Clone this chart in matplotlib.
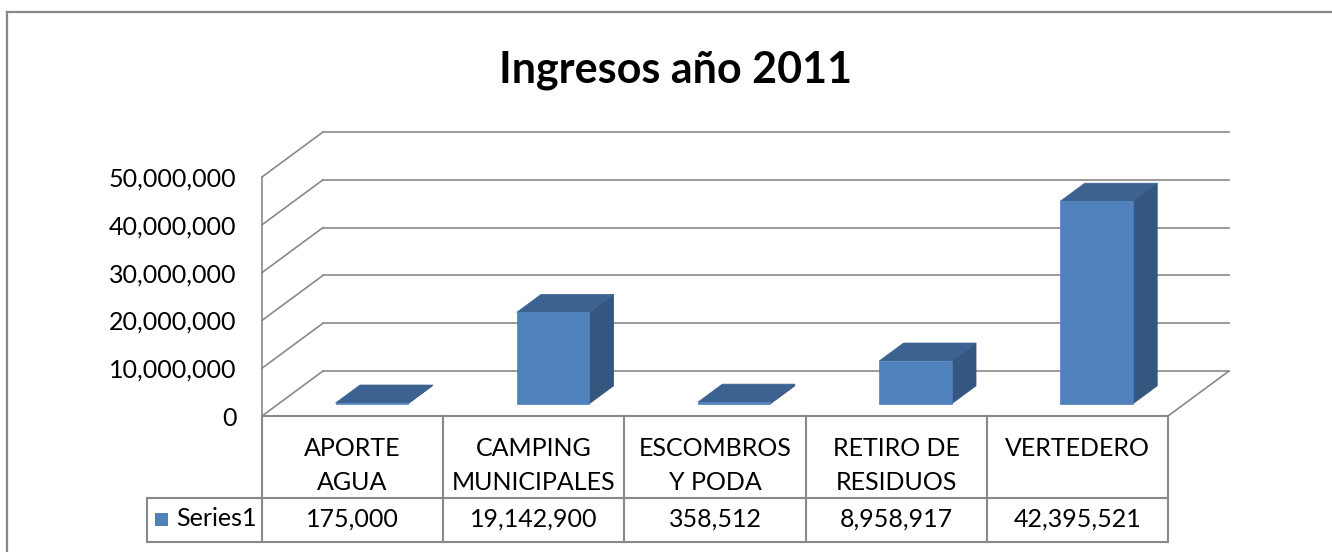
import numpy as np
import matplotlib.pyplot as plt
from matplotlib.patches import Polygon, Rectangle
from matplotlib.lines import Line2D
from matplotlib.transforms import IdentityTransform

# data
categories = ["APORTE\nAGUA", "CAMPING\nMUNICIPALES", "ESCOMBROS\nY PODA",
              "RETIRO DE\nRESIDUOS", "VERTEDERO"]
values = [175000, 19142900, 358512, 8958917, 42395521]
series_name = "Series1"
title = "Ingresos año 2011"
yticks = [0, 10000000, 20000000, 30000000, 40000000, 50000000]

plt.rcParams['font.family'] = ['Lato', 'DejaVu Sans']

W, H = 1332, 552
fig = plt.figure(figsize=(W / 100, H / 100), dpi=100)

GRID = '#898989'
FRONT = '#4f81bd'
SIDE = '#34567f'
TOP = '#3c6291'
FS = 18

# plot area (front plane), in pixel layout
x_left, x_right = 262, 1168
y_zero, y_top = 416, 177
ax = fig.add_axes([x_left / W, (H - y_zero) / H, (x_right - x_left) / W, (y_zero - y_top) / H])
ax.set_xlim(0, len(values))
ax.set_ylim(0, 50000000)
for s in ax.spines.values():
    s.set_visible(False)
ax.set_xticks([])
ax.set_yticks(yticks)
ax.set_yticklabels(["{:,}".format(v) for v in yticks], fontsize=FS)
ax.tick_params(axis='y', length=0, pad=18.5)
ax.patch.set_visible(False)

DEPTH = np.array([61.0, 45.0])  # depth of the 3d box in pixels
ID = IdentityTransform()


def pt(x, v, d):
    return ax.transData.transform((x, v)) + d * DEPTH


def line(p, q, z=1, lw=1.2):
    fig.add_artist(Line2D([p[0], q[0]], [p[1], q[1]], color=GRID, lw=lw,
                          transform=ID, zorder=z))


n = len(values)
# walls and gridlines
for v in yticks:
    line(pt(0, v, 0), pt(0, v, 1))
    line(pt(0, v, 1), pt(n, v, 1))
line(pt(0, 0, 0), pt(0, yticks[-1], 0))
line(pt(n, 0, 0), pt(n, 0, 1))

# bars
d0, d1 = 0.27, 0.67
bw = 0.4
for i, v in enumerate(values):
    x0 = i + 0.5 - bw / 2 + 0.015
    x1 = i + 0.5 + bw / 2 + 0.015
    front = [pt(x0, 0, d0), pt(x1, 0, d0), pt(x1, v, d0), pt(x0, v, d0)]
    side = [pt(x1, 0, d0), pt(x1, 0, d1), pt(x1, v, d1), pt(x1, v, d0)]
    top = [pt(x0, v, d0), pt(x1, v, d0), pt(x1, v, d1), pt(x0, v, d1)]
    for poly, c in [(side, SIDE), (top, TOP), (front, FRONT)]:
        fig.add_artist(Polygon(poly, closed=True, facecolor=c, edgecolor=c,
                               lw=0.5, transform=ID, zorder=3 + i))

# data table
t_left, t_bottom = 147, 542
px_unit = n / (x_right - x_left)
tax = fig.add_axes([t_left / W, (H - t_bottom) / H, (x_right - t_left) / W, (t_bottom - y_zero) / H])
tax.set_xlim(-(x_left - t_left) * px_unit, n)
tax.set_ylim(t_bottom - y_zero, 0)
tax.axis('off')
row_y = 82
kw = dict(color=GRID, lw=1.5, clip_on=False)
tax.plot([0, n], [0, 0], **kw)
tax.plot([tax.get_xlim()[0], n], [row_y, row_y], **kw)
tax.plot([tax.get_xlim()[0], n], [t_bottom - y_zero] * 2, **kw)
tax.plot([tax.get_xlim()[0]] * 2, [row_y, t_bottom - y_zero], **kw)
for k in range(n + 1):
    tax.plot([k, k], [0, t_bottom - y_zero], **kw)

for i, (c, v) in enumerate(zip(categories, values)):
    for j, part in enumerate(c.split("\n")):
        tax.text(i + 0.5, 32 + 35 * j, part, ha='center', va='center', fontsize=FS)
    tax.text(i + 0.5, 103, "{:,}".format(v), ha='center', va='center', fontsize=FS)

tax.add_patch(Rectangle(((155 - x_left) * px_unit, 97), 13 * px_unit, 13,
                        facecolor=FRONT, edgecolor='none'))
tax.text((176 - x_left) * px_unit, 103, series_name, ha='left', va='center', fontsize=FS)

# title
fig.text(676 / W, 1 - 83 / H, title, ha='center', va='baseline',
         fontsize=31, fontweight='bold')

# chart border
fig.add_artist(Line2D([7, 7], [0, H - 12], color='#878787', lw=1.6, transform=ID))
fig.add_artist(Line2D([7, W], [H - 12, H - 12], color='#878787', lw=1.6, transform=ID))

fig.savefig("out.png", dpi=100)
